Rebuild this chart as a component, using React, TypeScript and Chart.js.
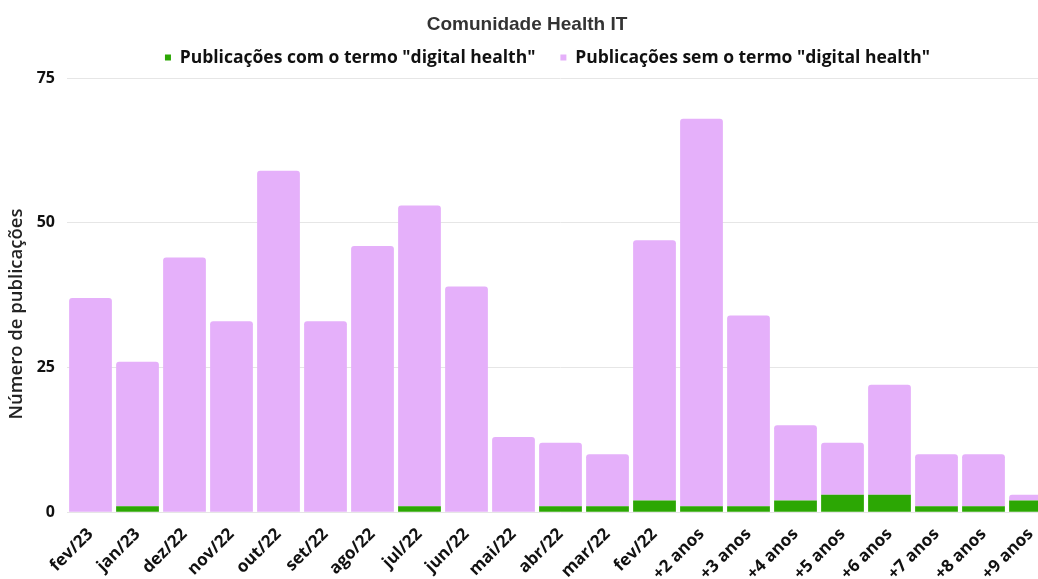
import React, { useEffect, useRef } from "react";
import { Chart, registerables } from "chart.js";

Chart.register(...registerables);

const categories = [
  "fev/23", "jan/23", "dez/22", "nov/22", "out/22", "set/22", "ago/22",
  "jul/22", "jun/22", "mai/22", "abr/22", "mar/22", "fev/22",
  "+2 anos", "+3 anos", "+4 anos", "+5 anos", "+6 anos", "+7 anos", "+8 anos", "+9 anos",
];

const withTerm = [0, 1, 0, 0, 0, 0, 0, 1, 0, 0, 1, 1, 2, 1, 1, 2, 3, 3, 1, 1, 2];
const withoutTerm = [37, 25, 44, 33, 59, 33, 46, 52, 39, 13, 11, 9, 45, 67, 33, 13, 9, 19, 9, 9, 1];

const yTicks = [0, 25, 50, 75];

const chartTitle = "Comunidade Health IT";
const seriesNames = [
  'Publicações com o termo "digital health"',
  'Publicações sem o termo "digital health"',
];
const yTitle = "Número de publicações";

const layoutTweaks = {
  id: "layoutTweaks",
  beforeLayout(chart: any) {
    const lg = chart.legend;
    if (lg && !lg._extraFit) {
      const orig = lg.fit.bind(lg);
      lg.fit = () => {
        orig();
        lg.height += 2;
      };
      lg._extraFit = true;
    }
  },
  afterLayout(chart: any) {
    const lg = chart.legend;
    if (lg) {
      lg.left -= 13;
      lg.right -= 13;
    }
  },
  afterDraw(chart: any) {
    const ctx = chart.ctx;
    ctx.save();
    ctx.translate(17, 314);
    ctx.rotate(-Math.PI / 2);
    ctx.font = "600 18.5px 'Open Sans', sans-serif";
    ctx.fillStyle = "#222222";
    ctx.textAlign = "center";
    ctx.textBaseline = "middle";
    ctx.fillText(yTitle, 0, 0);
    ctx.restore();
  },
};

export default function App() {
  const ref = useRef<HTMLCanvasElement | null>(null);

  useEffect(() => {
    if (!ref.current) return;
    const chart = new Chart(ref.current, {
      type: "bar",
      data: {
        labels: categories,
        datasets: [
          {
            label: seriesNames[0],
            data: withTerm,
            backgroundColor: "#2ca704",
            borderWidth: 0,
            barPercentage: 0.91,
            categoryPercentage: 1,
            stack: "s",
          },
          {
            label: seriesNames[1],
            data: withoutTerm,
            backgroundColor: "#e5b0fa",
            borderWidth: 0,
            borderRadius: { topLeft: 3, topRight: 3, bottomLeft: 0, bottomRight: 0 },
            borderSkipped: false,
            barPercentage: 0.91,
            categoryPercentage: 1,
            stack: "s",
          },
        ],
      },
      options: {
        responsive: false,
        maintainAspectRatio: false,
        animation: false,
        layout: { padding: { left: 0, right: 2, top: 0, bottom: 0 } },
        plugins: {
          title: {
            display: true,
            text: chartTitle,
            color: "#333333",
            font: { family: "'Liberation Sans', Arial, sans-serif", size: 19, weight: "bold" },
            padding: { top: 13, bottom: -12 },
          },
          legend: {
            display: true,
            fullSize: false,
            labels: {
              boxWidth: 6,
              boxHeight: 6,
              color: "#111111",
              font: { family: "'Open Sans', sans-serif", size: 17.5, weight: "bold" },
              padding: 25,
            },
          },
          tooltip: { enabled: false },
        },
        scales: {
          x: {
            stacked: true,
            grid: { display: false },
            border: { display: false },
            ticks: {
              color: "#111111",
              font: { family: "'Open Sans', sans-serif", size: 17, weight: "bold" },
              maxRotation: 45,
              minRotation: 45,
              autoSkip: false,
              padding: 4,
            },
          },
          y: {
            stacked: true,
            min: 0,
            max: 75,
            afterBuildTicks: (axis: any) => {
              axis.ticks = yTicks.map((v) => ({ value: v }));
            },
            afterFit: (axis: any) => {
              axis.width = 67;
            },
            grid: { color: "#e6e6e6", drawTicks: false, lineWidth: 1 },
            border: { display: false },
            ticks: {
              color: "#111111",
              font: { family: "'Open Sans', sans-serif", size: 16, weight: "bold" },
              padding: 12,
            },
            title: { display: false },
          },
        },
      },
      plugins: [layoutTweaks],
    });
    return () => chart.destroy();
  }, []);

  return (
    <div style={{ position: "absolute", left: 0, top: 0, width: 1038, height: 579, overflow: "hidden", background: "#fff" }}>
      <canvas ref={ref} width={1056} height={588} style={{ display: "block", width: 1056, height: 588 }} />
    </div>
  );
}
